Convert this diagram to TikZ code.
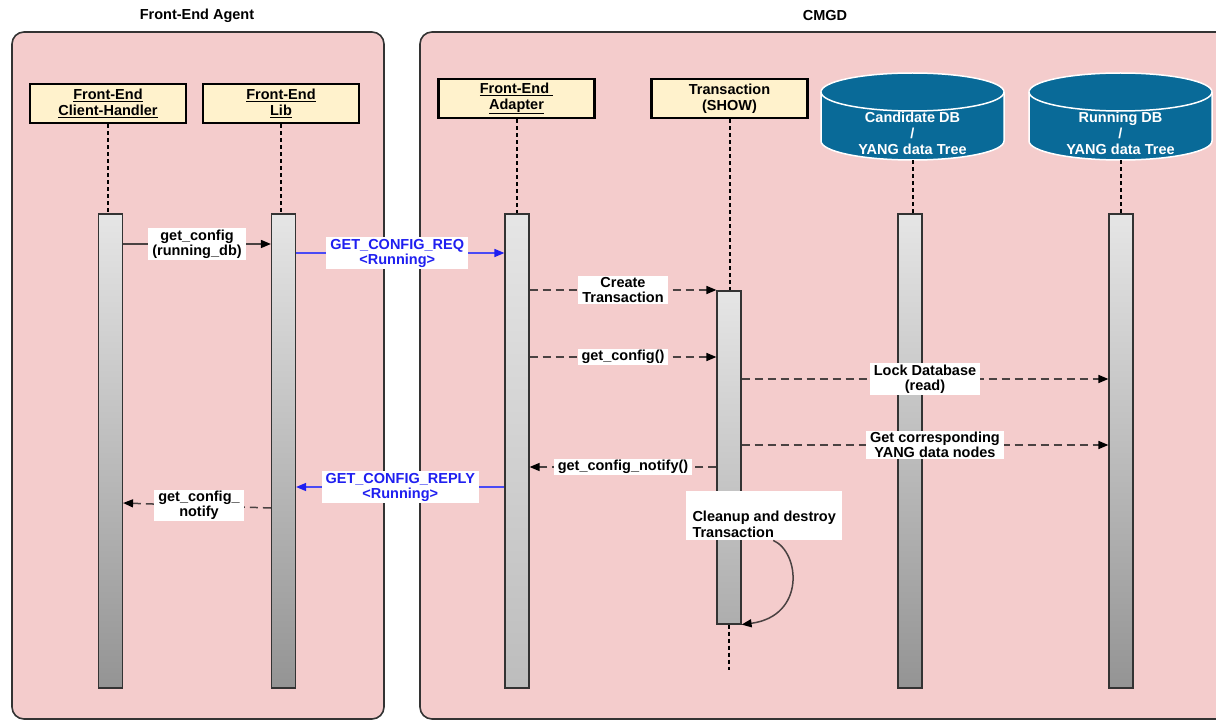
\documentclass[tikz,border=0pt]{standalone}
\usepackage{fontspec}
\setmainfont{Liberation Sans}
\usetikzlibrary{arrows.meta,calc}

\definecolor{boxpink}{HTML}{F4CCCC}
\definecolor{headfill}{HTML}{FFF2CC}
\definecolor{dbblue}{HTML}{096A98}
\definecolor{msggray}{HTML}{4A4242}
\definecolor{msgblue}{HTML}{1F1FF0}
\definecolor{msgblueline}{HTML}{4A4AF5}

\newcommand\seqfont{\bfseries\fontsize{14.5}{15}\selectfont}
\newcommand\headfont{\bfseries\fontsize{14.5}{16}\selectfont}

% database cylinder centred on x = #1
\newcommand\dbcylinder[1]{%
  \filldraw[dbshape] (#1-91.5,92) -- (#1-91.5,141)
    arc[start angle=180,end angle=0,x radius=91.5,y radius=19]
    -- (#1+91.5,92)
    arc[start angle=0,end angle=-180,x radius=91.5,y radius=19] -- cycle;
  \draw[dbshape] (#1-91.5,92)
    arc[start angle=180,end angle=0,x radius=91.5,y radius=19];}

\begin{document}
\begin{tikzpicture}[x=1pt,y=-1pt,
  title/.style={font=\headfont, inner sep=0},
  container/.style={draw=black!80, line width=1.6, rounded corners=12, fill=boxpink},
  head/.style={draw=black, line width=2.2, fill=headfill, minimum width=156,
    minimum height=39, inner sep=0, align=center, font=\headfont},
  dbshape/.style={fill=dbblue, draw=white, line width=1.5},
  dbslot/.style={minimum width=183, minimum height=87, inner sep=0},
  dbtext/.style={text=white, align=center, font=\bfseries\fontsize{14.5}{16}\selectfont, inner sep=0},
  bar/.style={draw=black!80, line width=1.2, minimum width=24, inner sep=0,
    top color=black!10, bottom color=black!42},
  lightbar/.style={bar, bottom color=black!26},
  lifeline/.style={draw=black, line width=2, dash pattern=on 4pt off 3pt},
  msg/.style={draw=msggray, line width=1.5, -{Triangle[length=10pt,width=8pt,color=black]}},
  reply/.style={msg, dash pattern=on 8pt off 5pt},
  bluemsg/.style={msg, draw=msgblueline, -{Triangle[length=10pt,width=8pt,color=msgblue]}},
  lbl/.style={fill=white, inner xsep=4pt, inner ysep=1.5pt, align=center, font=\seqfont},
  bluelbl/.style={lbl, text=msgblue},
]
\useasboundingbox[fill=white] (0,0) rectangle (1216,722);

% groups
\node[title] (agentTitle) at (197,16) {Front-End Agent};
\node[title] (cmgdTitle) at (825,16) {CMGD};
\draw[container] (12,32) rectangle (384,719);
\draw[container] (420,32) rectangle (1240,719);

% participants
\node[head] (chHead) at (108,103.5) {\underline{Front-End}\\\underline{Client-Handler}};
\node[head] (libHead) at (281,103.5) {\underline{Front-End}\\\underline{Lib}};
\node[head] (adHead) at (516.5,98.5) {\underline{Front-End\ }\\\underline{Adapter}};
\node[head] (txHead) at (729.5,98.5) {Transaction\\(SHOW)};

\dbcylinder{912.5}
\dbcylinder{1120.5}
\node[dbslot] (candDB) at (912.5,116.5) {};
\node[dbslot] (runDB) at (1120.5,116.5) {};
\node[dbtext] (candTxt) at (912.5,133) {Candidate DB\\/\\YANG data Tree};
\node[dbtext] (runTxt) at (1120.5,133) {Running DB\\/\\YANG data Tree};

% activation bars
\node[bar, minimum height=474] (chBar) at (110.5,451) {};
\node[bar, minimum height=474] (libBar) at (283.5,451) {};
\node[lightbar, minimum height=474] (adBar) at (517,451) {};
\node[bar, minimum height=333, bottom color=black!32] (txBar) at (729,457.5) {};
\node[bar, minimum height=474] (candBar) at (910,451) {};
\node[bar, minimum height=474] (runBar) at (1121,451) {};

% lifelines
\draw[lifeline] (chHead.south) -- (chHead.south |- chBar.north);
\draw[lifeline] (libHead.south) -- (libHead.south |- libBar.north);
\draw[lifeline] (adHead.south) -- (adHead.south |- adBar.north);
\draw[lifeline] (txHead.south) -- (txHead.south |- txBar.north);
\draw[lifeline] (candDB.south) -- (candDB.south |- candBar.north);
\draw[lifeline] (runDB.south) -- (runDB.south |- runBar.north);
\coordinate (txEnd) at (729,670);
\draw[lifeline, line width=1.6] (txBar.south) -- (txEnd);

% message levels
\coordinate (m1) at (0,244);
\coordinate (m2) at (0,253);
\coordinate (m3) at (0,290);
\coordinate (m4) at (0,357);
\coordinate (m5) at (0,379);
\coordinate (m6) at (0,445);
\coordinate (m7) at (0,467);
\coordinate (m8) at (0,487);
\coordinate (m9a) at (0,508);
\coordinate (m9b) at (0,503);

% messages
\draw[msg] (chBar.east |- m1) -- node[lbl] {get\_config\\(running\_db)} (libBar.west |- m1);
\draw[bluemsg] (libBar.east |- m2) -- node[bluelbl, xshift=-3pt] {GET\_CONFIG\_REQ\\<Running>} (adBar.west |- m2);
\draw[reply] (adBar.east |- m3) -- node[lbl] {Create\\Transaction} (txBar.west |- m3);
\draw[reply] (adBar.east |- m4) -- node[lbl] {get\_config()} (txBar.west |- m4);
\draw[reply] (txBar.east |- m5) -- node[lbl] {Lock Database\\(read)} (runBar.west |- m5);
\draw[reply] (txBar.east |- m6) -- node[lbl, xshift=10pt] {Get corresponding\\YANG data nodes} (runBar.west |- m6);
\draw[reply] (txBar.west |- m7) -- node[lbl] {get\_config\_notify()} (adBar.east |- m7);
\draw[bluemsg] (adBar.west |- m8) -- node[bluelbl] {GET\_CONFIG\_REPLY\\<Running>} (libBar.east |- m8);
\draw[reply] (libBar.west |- m9a) -- node[lbl, xshift=2pt] {get\_config\_\\notify} (chBar.east |- m9b);

% self call on the transaction
\node[fill=white, minimum width=156, minimum height=49, inner xsep=2pt, inner ysep=0,
  align=left, font=\bfseries\fontsize{14.5}{16.5}\selectfont, anchor=north west]
  (cleanup) at (686,491) {\strut\\Cleanup and destroy\\Transaction\hfill};
\draw[msg] ($(cleanup.south)+(9,0)$) .. controls (800,552) and (806,616) .. (txBar.south east);

\end{tikzpicture}
\end{document}
